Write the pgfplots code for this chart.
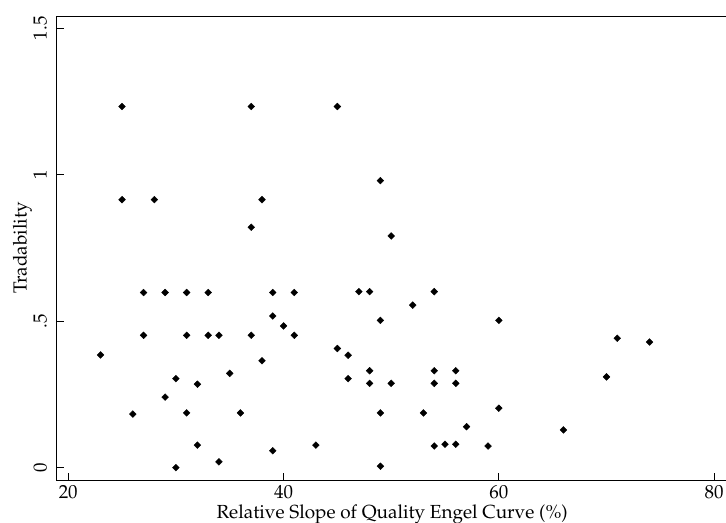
\documentclass[border=0pt]{standalone}
\usepackage[T1]{fontenc}
\usepackage{mathpazo}
\usepackage{pgfplots}
\pgfplotsset{compat=1.18}

% Relative slope of the quality Engel curve (%) against tradability
\pgfplotstableread{
x y
25 1.233
25 0.915
28 0.915
37 1.233
45 1.233
49 0.980
38 0.915
37 0.821
50 0.791
27 0.598
29 0.598
31 0.598
33 0.598
27 0.452
31 0.452
33 0.452
34 0.452
23 0.385
35 0.322
30 0.304
32 0.285
29 0.241
26 0.183
31 0.187
32 0.077
34 0.020
30 0.000
39 0.598
41 0.598
47 0.601
48 0.601
39 0.518
40 0.484
49 0.503
37 0.452
41 0.452
45 0.407
46 0.384
38 0.365
48 0.331
46 0.304
48 0.288
50 0.288
36 0.187
49 0.187
43 0.077
39 0.058
49 0.005
54 0.601
52 0.555
60 0.503
54 0.331
56 0.331
54 0.288
56 0.288
53 0.187
60 0.203
57 0.140
66 0.129
54 0.074
55 0.080
56 0.080
59 0.074
71 0.442
74 0.429
70 0.310
}\tradedata

\begin{document}
\begin{tikzpicture}
\begin{axis}[
  name=ax,
  at={(0,0)}, anchor=south west,
  scale only axis,
  width=670.9bp, height=464bp,
  xmin=18.93, xmax=81.25,
  ymin=-0.042, ymax=1.542,
  xtick={20,40,60,80},
  ytick={0,0.5,1,1.5},
  yticklabels={0,.5,1,1.5},
  xtick pos=left, ytick pos=left,
  tick align=inside,
  major tick length=7bp,
  tick style={black, line width=0.9bp},
  axis line style={black, line width=0.9bp},
  ticklabel style={font=\fontsize{19}{22}\selectfont},
  xticklabel style={anchor=base, yshift=-18.3bp},
  yticklabel style={anchor=base, xshift=-10bp, rotate=90},
  label style={font=\fontsize{19}{22}\selectfont},
  xlabel={Relative Slope of Quality Engel Curve (\%)},
  xlabel style={at={(axis description cs:0.5,-0.0834)}, anchor=base},
  ylabel={Tradability},
  ylabel style={at={(axis description cs:-0.0447,0.5)}, anchor=base},
]
\addplot[only marks, mark=square*, mark size=2.4bp,
  mark options={rotate=45, fill=black, draw=black}] table {\tradedata};
\end{axis}
\pgfresetboundingbox
\path[use as bounding box] ([shift={(-56.7bp,-43bp)}]ax.south west)
  rectangle ([shift={(669.3bp,16bp)}]ax.north west);
\end{tikzpicture}
\end{document}
